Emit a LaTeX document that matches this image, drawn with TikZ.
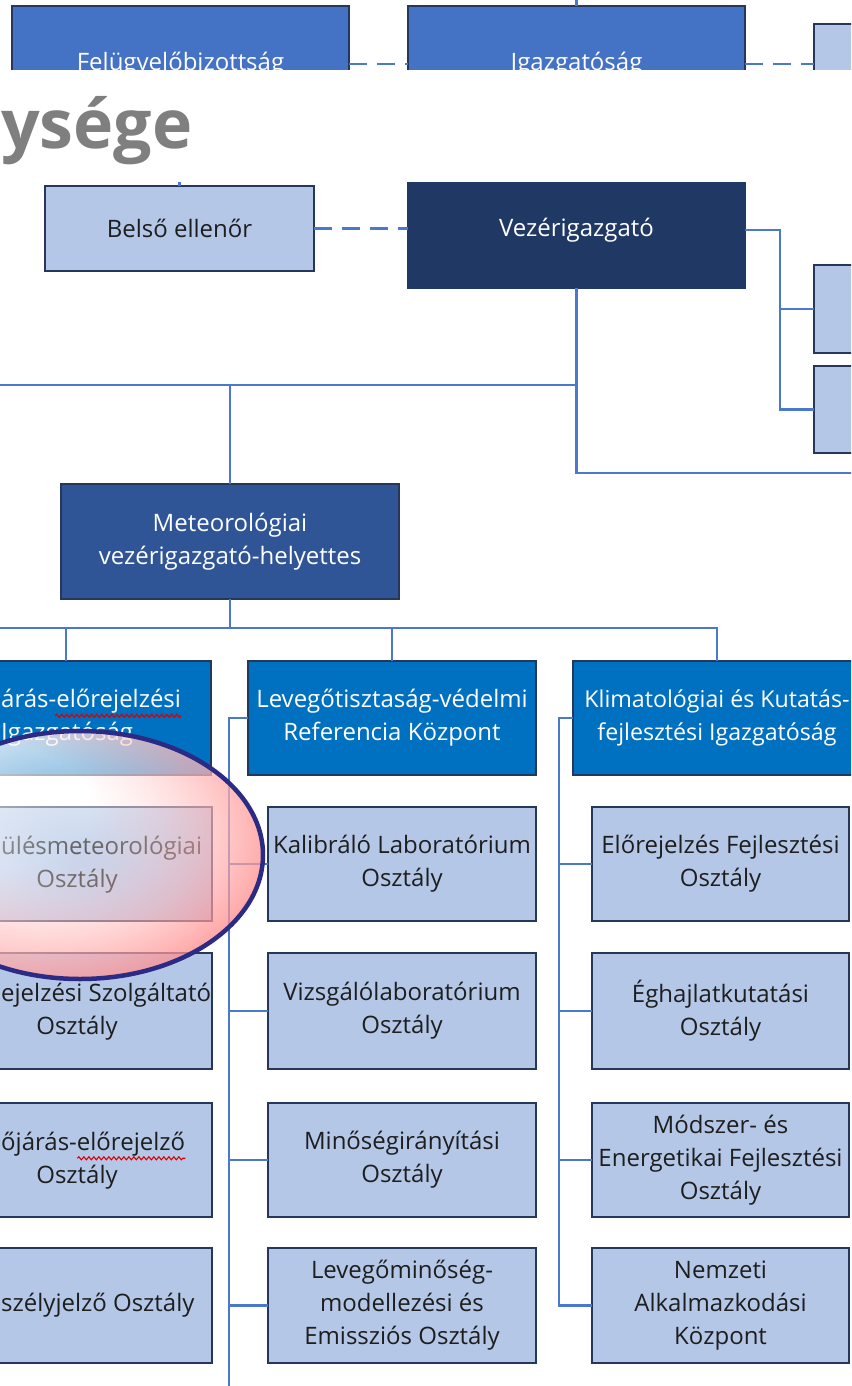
\documentclass[tikz,border=0pt]{standalone}
\usepackage{fontspec}
\setmainfont{Open Sans}
\usetikzlibrary{decorations.pathmorphing,fadings}

\definecolor{topblue}{HTML}{4472C4}
\definecolor{navy}{HTML}{203864}
\definecolor{deputyblue}{HTML}{2F5597}
\definecolor{deptblue}{HTML}{0070C0}
\definecolor{pale}{HTML}{B4C7E7}
\definecolor{edge}{HTML}{25375A}
\definecolor{link}{HTML}{4A78CC}
\definecolor{ink}{HTML}{1E1E1E}
\definecolor{ring}{HTML}{2B2B85}
\definecolor{glowred}{HTML}{FF5050}
\definecolor{headgray}{HTML}{7F7F7F}

\pgfdeclareradialshading{glow}{\pgfpoint{-12bp}{11bp}}{color(0bp)=(white); color(12bp)=(white); color(48bp)=(glowred); color(100bp)=(glowred)}
\tikzfading[name=glowfade, inner color=transparent!72, outer color=transparent!22]

\newcommand{\chartfont}{\fontsize{24}{33}\selectfont}

\begin{document}
\begin{tikzpicture}[x=1pt,y=-1pt,
  wh/.style 2 args={minimum width=#1,minimum height=#2},
  box/.style={draw=edge,line width=1.6pt,inner sep=0pt,outer sep=0pt,align=center,font=\chartfont},
  upper/.style={box,fill=topblue,text=white},
  chief/.style={box,draw=navy,fill=navy,text=white},
  deputy/.style={box,fill=deputyblue,text=white},
  dept/.style={box,fill=deptblue,text=white},
  office/.style={box,fill=pale,text=ink},
  frag/.style={inner sep=0pt,font=\chartfont},
  conn/.style={draw=link,line width=2.2pt},
  dashconn/.style={conn,dash pattern=on 18pt off 10pt},
  squiggle/.style={draw=red!85!black,line width=1.1pt,decorate,decoration={snake,amplitude=1.5pt,segment length=5pt}},
  halo/.style={draw=ring,line width=4.5pt}]

\useasboundingbox (0,0) rectangle (851,1386);
\fill[white] (0,0) rectangle (851,1386);

\begin{scope}
\clip (0,0) rectangle (851,70) (0,182) rectangle (851,1386);

\node[upper, wh={337}{116}] (board) at (180.5,64) {Felügyelőbizottság};
\node[upper, wh={337}{116}] (directors) at (576.5,64) {Igazgatóság};
\node[office, wh={120}{84}, anchor=north west] (sidetop) at (814,24) {};
\coordinate (roof) at (576.5,-5);
\draw[conn] (roof) -- (directors.north);
\draw[dashconn] (board.east) -- (directors.west);
\draw[dashconn] (directors.east) -- (directors.east -| sidetop.west);

\node[office, wh={269}{85}] (audit) at (179.5,228.5) {Belső ellenőr};
\node[chief, wh={337}{116}] (ceo) at (576.5,230) {Vezérigazgató};
\coordinate (auditup) at (179.5,150);
\draw[conn] (auditup) -- (audit.north);
\draw[dashconn] (audit.east) -- (audit.east -| ceo.west);

\node[office, wh={120}{88}, anchor=north west] (side1) at (814,265) {};
\node[office, wh={120}{87}, anchor=north west] (side2) at (814,366) {};
\coordinate (fork) at (780,230);
\draw[conn] (ceo.east) -- (fork) |- (side2.west);
\draw[conn] (fork |- side1.west) -- (side1.west);

\coordinate (eastend) at (860,473);
\coordinate (westend) at (-5,385);
\draw[conn] (ceo.south) |- (eastend);
\draw[conn] (westend) -- (westend -| ceo.south);

\node[deputy, wh={338}{115}] (metdep) at (230,541.5) {Meteorológiai\\vezérigazgató-helyettes};
\draw[conn] (metdep.north) -- (metdep.north |- westend);

\node[dept, wh={290}{114}] (forecast) at (66,718) {};
\node[frag, text=white, anchor=west] (fc1) at (1,701.5) {árás-előrejelzési};
\node[frag, text=white, anchor=west] (fc2) at (1,734.5) {Igazgatóság};
\node[dept, wh={288}{114}] (airref) at (392,718) {Levegőtisztaság-védelmi\\Referencia Központ};
\node[dept, wh={288}{114}, font=\fontsize{23.2}{33}\selectfont] (climate) at (717,718) {Klimatológiai és Kutatás-\\fejlesztési Igazgatóság};
\coordinate (westend2) at (-5,628);
\draw[conn] (metdep.south) -- (metdep.south |- westend2);
\draw[conn] (westend2) -| (climate.north);
\draw[conn] (forecast.north) -- (forecast.north |- westend2);
\draw[conn] (airref.north) -- (airref.north |- westend2);

\node[office, wh={270}{114}] (l1) at (77,864) {};
\node[office, wh={270}{116}] (l2) at (77,1011) {};
\node[office, wh={270}{114}] (l3) at (77,1160) {};
\node[office, wh={270}{115}] (l4) at (77,1305.5) {};
\node[frag, text=ink, anchor=west] (l1a) at (1,848) {ülésmeteorológiai};
\node[frag, text=ink] (l1b) at (77,881) {Osztály};
\node[frag, text=ink, anchor=west] (l2a) at (1,995) {ejelzési Szolgáltató};
\node[frag, text=ink] (l2b) at (77,1028) {Osztály};
\node[frag, text=ink, anchor=west] (l3a) at (1,1144) {őjárás-előrejelző};
\node[frag, text=ink] (l3b) at (77,1177) {Osztály};
\node[frag, text=ink, anchor=west] (l4a) at (1,1305) {szélyjelző Osztály};
\draw[squiggle] ([xshift=-126pt,yshift=-2pt]fc1.south east) -- ([yshift=-2pt]fc1.south east);
\draw[squiggle] ([xshift=-108pt,yshift=-2pt]l3a.south east) -- ([yshift=-2pt]l3a.south east);

\node[office, wh={268}{114}] (m1) at (402,864) {Kalibráló Laboratórium\\Osztály};
\node[office, wh={268}{116}] (m2) at (402,1011) {Vizsgálólaboratórium\\Osztály};
\node[office, wh={268}{114}] (m3) at (402,1160) {Minőségirányítási\\Osztály};
\node[office, wh={268}{115}] (m4) at (402,1305.5) {Levegőminőség-\\modellezési és\\Emissziós Osztály};
\coordinate (airbus) at (229,1395);
\draw[conn] (airref.west) -| (airbus);
\draw[conn] (m1.west -| airbus) -- (m1.west);
\draw[conn] (m2.west -| airbus) -- (m2.west);
\draw[conn] (m3.west -| airbus) -- (m3.west);
\draw[conn] (m4.west -| airbus) -- (m4.west);

\node[office, wh={257}{114}] (r1) at (720.5,864) {Előrejelzés Fejlesztési\\Osztály};
\node[office, wh={257}{116}] (r2) at (720.5,1011) {Éghajlatkutatási\\Osztály};
\node[office, wh={257}{114}] (r3) at (720.5,1160) {Módszer- és\\Energetikai Fejlesztési\\Osztály};
\node[office, wh={257}{115}] (r4) at (720.5,1305.5) {Nemzeti\\Alkalmazkodási\\Központ};
\coordinate (climbus) at (559,1305.5);
\draw[conn] (climate.west) -| (climbus) -- (r4.west);
\draw[conn] (r1.west -| climbus) -- (r1.west);
\draw[conn] (r2.west -| climbus) -- (r2.west);
\draw[conn] (r3.west -| climbus) -- (r3.west);
\end{scope}

\node[font=\fontsize{68}{80}\selectfont\bfseries, text=headgray, inner sep=0pt, anchor=base west] (heading) at (1,148) {ysége};

\shade[shading=glow, path fading=glowfade] (80,855) ellipse [x radius=183pt, y radius=124pt];
\draw[halo] (80,855) ellipse [x radius=183pt, y radius=124pt];

\end{tikzpicture}
\end{document}
